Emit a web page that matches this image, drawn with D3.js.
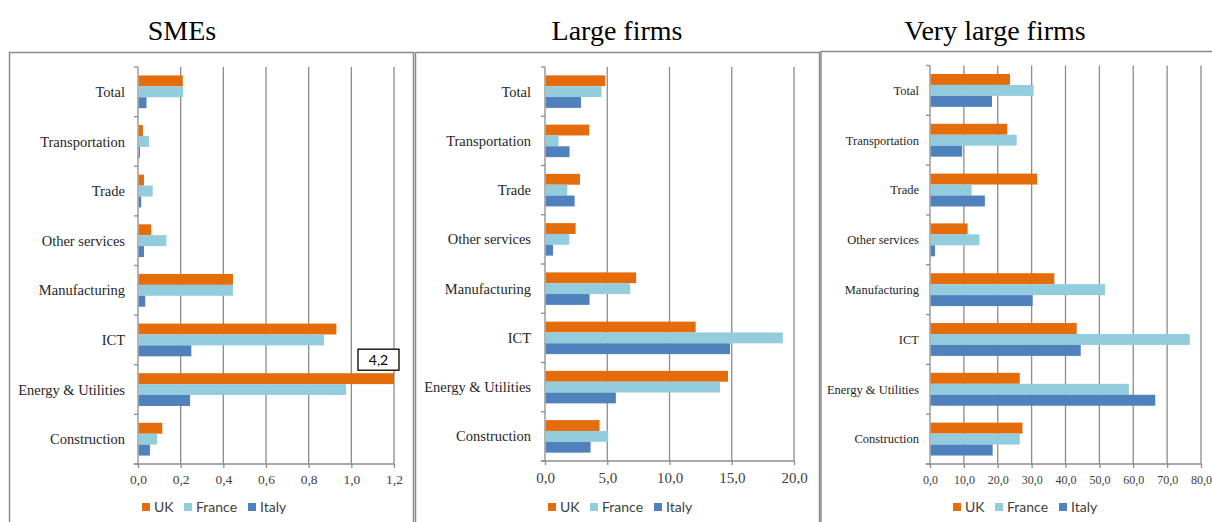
<!DOCTYPE html>
<html>
<head>
<meta charset="utf-8">
<script src="https://cdn.jsdelivr.net/npm/d3@7"></script>
<style>
  body { margin: 0; background: #fff; }
  svg { display: block; }
</style>
</head>
<body>
<div class="chart-container"></div>
<script>
// categories top to bottom, as in the picture
const categories = ["Total", "Transportation", "Trade", "Other services",
  "Manufacturing", "ICT", "Energy & Utilities", "Construction"];
const series = ["UK", "France", "Italy"];
const seriesColors = ["#E46C0A", "#93CDDD", "#4F81BD"];

// SMEs
const smeUK     = [0.21, 0.023, 0.028, 0.062, 0.445, 0.93, 4.2, 0.114];
const smeFrance = [0.212, 0.052, 0.069, 0.133, 0.445, 0.872, 0.975, 0.089];
const smeItaly  = [0.04, 0.009, 0.015, 0.028, 0.034, 0.25, 0.244, 0.056];
const smeTicks  = [0, 0.2, 0.4, 0.6, 0.8, 1.0, 1.2];

// Large firms
const largeUK     = [4.84, 3.55, 2.81, 2.46, 7.32, 12.1, 14.7, 4.38];
const largeFrance = [4.54, 1.09, 1.79, 1.95, 6.84, 19.1, 14.06, 5.08];
const largeItaly  = [2.89, 1.97, 2.38, 0.64, 3.58, 14.86, 5.69, 3.66];
const largeTicks  = [0, 5, 10, 15, 20];

// Very large firms
const veryLargeUK     = [23.6, 22.8, 31.6, 11.1, 36.7, 43.3, 26.5, 27.3];
const veryLargeFrance = [30.6, 25.6, 12.3, 14.6, 51.7, 76.7, 58.7, 26.5];
const veryLargeItaly  = [18.3, 9.5, 16.2, 1.5, 30.3, 44.5, 66.5, 18.5];
const veryLargeTicks  = [0, 10, 20, 30, 40, 50, 60, 70, 80];

const titles = ["SMEs", "Large firms", "Very large firms"];

var chart_width = 1212;
var chart_height = 522;

var svg = d3.select('.chart-container')
  .append('svg')
  .attr('width', chart_width)
  .attr('height', chart_height);

var serif = "'Liberation Serif', 'Times New Roman', serif";
var sans = "Lato, 'Open Sans', sans-serif";
var grey = '#8c8c8c';

// one entry per panel: where things go
var panels = [
  { title: titles[0], values: [smeUK, smeFrance, smeItaly], ticks: smeTicks,
    box: [9.5, 52.5, 404, 480], titleX: 182,
    plot: [138, 394, 67, 464], labelX: 125, labelSize: 14.5, tickSize: 13.5, tickY: 484,
    legendX: 142 },
  { title: titles[1], values: [largeUK, largeFrance, largeItaly], ticks: largeTicks,
    box: [415.5, 52.5, 404, 480], titleX: 617,
    plot: [545, 794, 67, 461], labelX: 531, labelSize: 14.5, tickSize: 15, tickY: 483,
    legendX: 548 },
  { title: titles[2], values: [veryLargeUK, veryLargeFrance, veryLargeItaly], ticks: veryLargeTicks,
    box: [821, 51.5, 404, 480], titleX: 995,
    plot: [930, 1201, 65.5, 464], labelX: 919, labelSize: 12.5, tickSize: 12, tickY: 484,
    legendX: 953 }
];

var legendOffsets = [0, 42, 106];

panels.forEach(function (p) {
  var g = svg.append('g');

  // title
  svg.append('text')
    .attr('x', p.titleX)
    .attr('y', 40)
    .attr('text-anchor', 'middle')
    .attr('font-family', serif)
    .attr('font-size', '28px')
    .attr('fill', '#000')
    .text(p.title);

  // panel frame
  g.append('rect')
    .attr('x', p.box[0])
    .attr('y', p.box[1])
    .attr('width', p.box[2])
    .attr('height', p.box[3])
    .attr('fill', 'none')
    .attr('stroke', '#8a8a8a')
    .attr('stroke-width', 1.5);

  var x = d3.scaleLinear()
    .domain([p.ticks[0], p.ticks[p.ticks.length - 1]])
    .range([p.plot[0], p.plot[1]])
    .clamp(true);

  var y = d3.scaleBand()
    .domain(categories)
    .range([p.plot[2], p.plot[3]])
    .paddingInner(0.34)
    .paddingOuter(0.17);

  var ySub = d3.scaleBand()
    .domain(series)
    .range([0, y.bandwidth()]);

  // vertical gridlines
  g.selectAll('.grid')
    .data(p.ticks.slice(1))
    .enter()
    .append('line')
    .attr('x1', function (d) { return x(d); })
    .attr('x2', function (d) { return x(d); })
    .attr('y1', p.plot[2])
    .attr('y2', p.plot[3])
    .attr('stroke', grey)
    .attr('stroke-width', 1.3);

  // bottom axis
  var fmt = d3.format('.1f');
  var xAxis = g.append('g')
    .attr('transform', 'translate(0,' + p.plot[3] + ')')
    .call(d3.axisBottom(x)
      .tickValues(p.ticks)
      .tickSize(4)
      .tickFormat(function (d) { return fmt(d).replace('.', ','); }));
  xAxis.select('.domain')
    .attr('stroke', grey)
    .attr('stroke-width', 1.3)
    .attr('d', 'M' + (p.plot[0] - 4) + ',0H' + p.plot[1]);
  xAxis.selectAll('.tick line').attr('stroke', grey).attr('stroke-width', 1.3);
  xAxis.selectAll('.tick text')
    .attr('y', p.tickY - p.plot[3])
    .attr('dy', 0)
    .attr('font-family', serif)
    .attr('font-size', p.tickSize + 'px')
    .attr('fill', '#404040');

  // left axis line with ticks at category boundaries
  g.append('line')
    .attr('x1', p.plot[0]).attr('x2', p.plot[0])
    .attr('y1', p.plot[2]).attr('y2', p.plot[3])
    .attr('stroke', grey)
    .attr('stroke-width', 1.3);

  var step = y.step();
  g.selectAll('.ytick')
    .data(d3.range(categories.length + 1))
    .enter()
    .append('line')
    .attr('x1', p.plot[0] - 4)
    .attr('x2', p.plot[0])
    .attr('y1', function (i) { return p.plot[2] + i * step; })
    .attr('y2', function (i) { return p.plot[2] + i * step; })
    .attr('stroke', grey)
    .attr('stroke-width', 1.3);

  // category labels
  g.selectAll('.cat')
    .data(categories)
    .enter()
    .append('text')
    .attr('x', p.labelX)
    .attr('y', function (d) { return y(d) + y.bandwidth() / 2; })
    .attr('dy', '0.35em')
    .attr('text-anchor', 'end')
    .attr('font-family', serif)
    .attr('font-size', p.labelSize + 'px')
    .attr('fill', '#262626')
    .text(function (d) { return d; });

  // bars
  series.forEach(function (s, si) {
    g.selectAll('.bar-' + si)
      .data(p.values[si])
      .enter()
      .append('rect')
      .attr('x', p.plot[0] + 0.7)
      .attr('y', function (d, i) { return y(categories[i]) + ySub(s); })
      .attr('width', function (d) { return Math.max(0, x(d) - p.plot[0] - 0.7); })
      .attr('height', ySub.bandwidth())
      .attr('fill', seriesColors[si]);
  });

  // value box for bars cut off by the axis
  p.values[0].forEach(function (d, i) {
    if (d <= p.ticks[p.ticks.length - 1]) return;
    var bx = x(d) + 5;
    var by = y(categories[i]) + ySub(series[0]) - 3;
    g.append('rect')
      .attr('x', bx - 41)
      .attr('y', by - 21)
      .attr('width', 41)
      .attr('height', 21)
      .attr('fill', '#fff')
      .attr('stroke', '#000')
      .attr('stroke-width', 1.3);
    g.append('text')
      .attr('x', bx - 20.5)
      .attr('y', by - 5)
      .attr('text-anchor', 'middle')
      .attr('font-family', sans)
      .attr('font-size', '14px')
      .attr('fill', '#000')
      .text(fmt(d).replace('.', ','));
  });

  // legend
  var legend = g.selectAll('.legend')
    .data(series)
    .enter()
    .append('g')
    .attr('transform', function (d, i) {
      return 'translate(' + (p.legendX + legendOffsets[i]) + ',503)';
    });
  legend.append('rect')
    .attr('width', 8)
    .attr('height', 8)
    .attr('fill', function (d, i) { return seriesColors[i]; });
  legend.append('text')
    .attr('x', 12)
    .attr('y', 8.5)
    .attr('font-family', sans)
    .attr('font-size', '14px')
    .attr('fill', '#404040')
    .text(function (d) { return d; });
});
</script>
</body>
</html>
